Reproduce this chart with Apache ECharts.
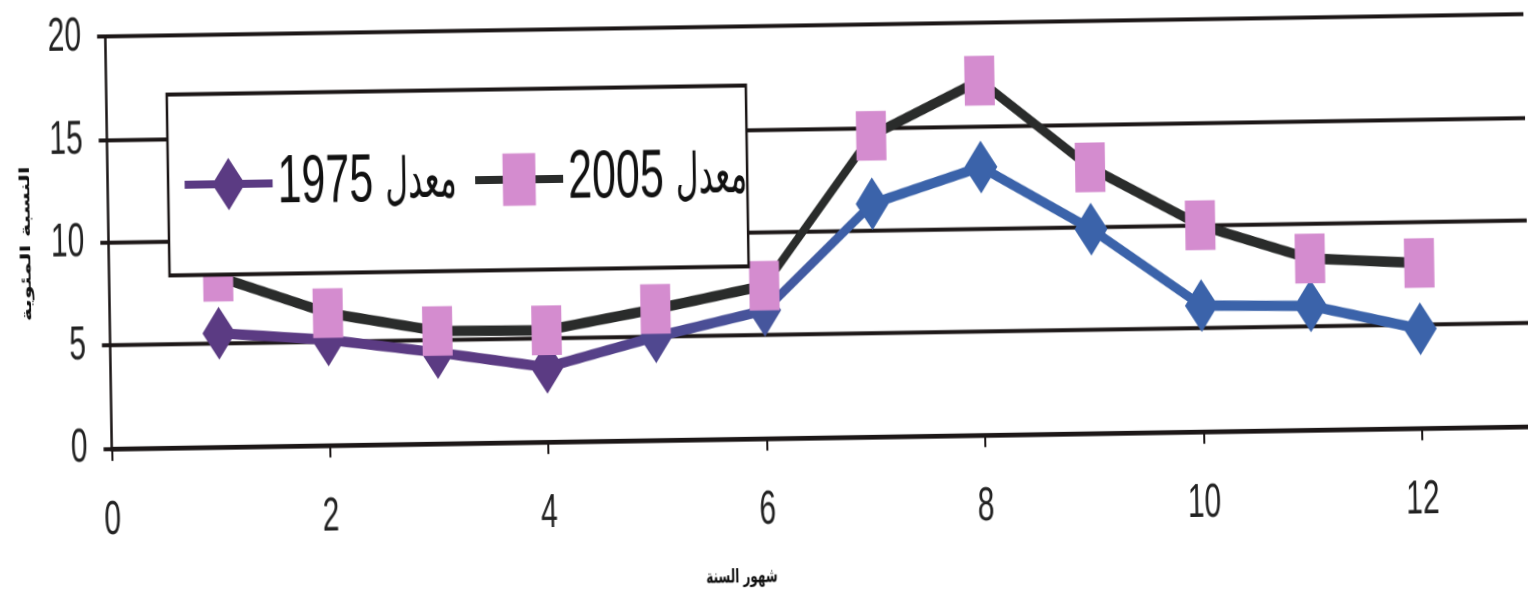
<!DOCTYPE html>
<html>
<head>
<meta charset="utf-8">
<script src="https://cdn.jsdelivr.net/npm/echarts@6/dist/echarts.min.js"></script>
<style>
  html, body { margin: 0; padding: 0; background: #ffffff; overflow: hidden; width: 1528px; height: 599px; }
  /* The drawing is tall and slightly tilted, as on the printed page */
  #chart {
    position: absolute; left: 0; top: 112.3125px;
    width: 1528px; height: 374.375px;
    transform: rotate(-0.9deg) scaleY(1.6);
    transform-origin: 50% 50%;
  }
</style>
</head>
<body>
<div id="chart"></div>
<script>
// Monthly averages for the two reference years
const months = [1, 2, 3, 4, 5, 6, 7, 8, 9, 10, 11, 12];
const avg1975 = [5.5, 5.1, 4.4, 3.6, 5.0, 6.2, 11.3, 13.0, 9.9, 6.1, 6.0, 4.8];
const avg2005 = [8.25, 6.4, 5.45, 5.4, 6.35, 7.4, 14.6, 17.2, 12.9, 10.0, 8.3, 8.0];
const seriesLabel = 'معدل';
const seriesYears = ['1975', '2005'];
const seriesNames = seriesYears.map(y => seriesLabel + ' ' + y);

// Axis ranges and tick steps
const xRange = [0, 14];
const xStep = 2;
const yRange = [0, 20];
const yStep = 5;

const xTitle = 'شهور السنة';
const yTitle = 'النسبة المئوية';

const FONT = '"Liberation Sans", Arial, "DejaVu Sans", sans-serif';
const ARABIC_FONT = '"DejaVu Sans Condensed", "DejaVu Sans", sans-serif';
const INK = '#1c1717';
const PURPLE = [91, 59, 131];
const BLUE = [59, 99, 170];
const PINK = '#d48ccf';
const DARK_LINE = '#2a2c2b';

function mix(t) {
  t = Math.max(0, Math.min(1, t));
  const c = PURPLE.map((p, i) => Math.round(p + (BLUE[i] - p) * t));
  return 'rgb(' + c.join(',') + ')';
}
// 1975 line shifts from purple (early months) to blue (summer on)
function tone1975(month) { return mix((month - 4) / 3); }

const data1975 = months.map((m, i) => ({ value: [m, avg1975[i]], itemStyle: { color: tone1975(m) } }));
const data2005 = months.map((m, i) => [m, avg2005[i]]);

const span = months[months.length - 1] - months[0];
const gradient1975 = new echarts.graphic.LinearGradient(0, 0, 1, 0, [
  { offset: 0, color: tone1975(months[0]) },
  { offset: (4 - months[0]) / span, color: tone1975(4) },
  { offset: (7 - months[0]) / span, color: tone1975(7) },
  { offset: 1, color: tone1975(12) }
]);

const chart = echarts.init(document.getElementById('chart'), null, { renderer: 'canvas', devicePixelRatio: 2 });

chart.setOption({
  animation: false,
  backgroundColor: '#ffffff',
  grid: { left: 109.3, right: -110.1, top: 16.7, bottom: 100.1, containLabel: false, outerBoundsMode: 'none' },
  legend: {
    left: 170, top: 53.5,
    orient: 'horizontal',
    itemWidth: 88, itemHeight: 41, itemGap: 16,
    padding: [35, 0, 35, 14],
    backgroundColor: '#ffffff',
    borderColor: INK, borderWidth: 2.5,
    // year first, then the Arabic word, read right to left
    formatter: name => {
      const year = name.slice(seriesLabel.length + 1);
      return '{n|' + year + '} {a|' + seriesLabel + '}';
    },
    textStyle: {
      fontSize: 43, color: '#111111', fontFamily: FONT,
      rich: {
        n: { fontSize: 43, color: '#111111', fontFamily: FONT, verticalAlign: 'bottom' },
        a: { fontSize: 35, color: '#111111', fontFamily: ARABIC_FONT, verticalAlign: 'bottom', padding: [0, 0, 3, 0] }
      }
    },
    data: [
      { name: seriesNames[0], itemStyle: { color: tone1975(1) }, lineStyle: { color: tone1975(1), width: 5 } },
      { name: seriesNames[1], itemStyle: { color: PINK }, lineStyle: { color: DARK_LINE, width: 5 } }
    ]
  },
  xAxis: {
    type: 'value', min: xRange[0], max: xRange[1], interval: xStep,
    axisLine: { show: true, onZero: false, lineStyle: { color: INK, width: 3 } },
    axisTick: { show: true, inside: false, length: 8, lineStyle: { color: INK, width: 2 } },
    axisLabel: { fontSize: 30, margin: 30.5, color: '#222222', fontFamily: FONT },
    splitLine: { show: false }
  },
  yAxis: {
    type: 'value', min: yRange[0], max: yRange[1], interval: yStep,
    name: yTitle, nameLocation: 'middle', nameGap: 75,
    nameTextStyle: { fontSize: 14, fontWeight: 'bold', color: '#111111', fontFamily: '"DejaVu Sans", sans-serif' },
    axisLine: { show: true, lineStyle: { color: INK, width: 2.5 } },
    axisTick: { show: true, inside: false, length: 8, lineStyle: { color: INK, width: 2.5 } },
    axisLabel: { fontSize: 30, margin: 24, align: 'right', color: '#222222', fontFamily: FONT },
    splitLine: { show: true, lineStyle: { color: INK, width: 2.5 } }
  },
  graphic: [{
    type: 'text', x: 737.6, y: 361,
    style: { text: xTitle, font: 'bold 12px "DejaVu Sans", sans-serif', fill: '#111111', align: 'center', verticalAlign: 'middle' }
  }],
  series: [
    {
      name: seriesNames[0], type: 'line', data: data1975,
      symbol: 'diamond', symbolSize: [33, 33], showSymbol: true,
      lineStyle: { color: gradient1975, width: 6.5 },
      itemStyle: { color: tone1975(1) },
      z: 2
    },
    {
      name: seriesNames[1], type: 'line', data: data2005,
      symbol: 'rect', symbolSize: [30, 31], showSymbol: true,
      lineStyle: { color: DARK_LINE, width: 6.5 },
      itemStyle: { color: PINK },
      z: 3
    }
  ]
});
</script>
</body>
</html>
